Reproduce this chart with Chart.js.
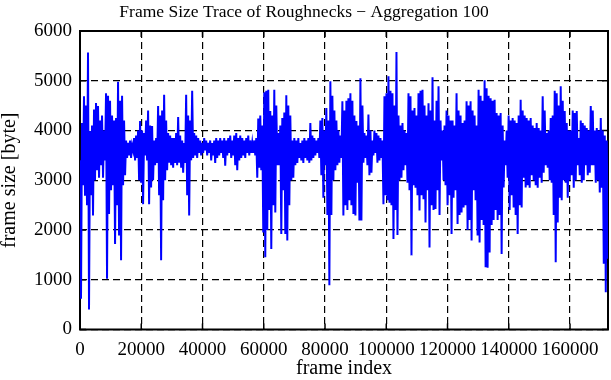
<!DOCTYPE html>
<html>
<head>
<meta charset="utf-8">
<title>Frame Size Trace of Roughnecks</title>
<script src="https://cdn.jsdelivr.net/npm/chart.js@4.4.1/dist/chart.umd.min.js"></script>
<style>
    html, body { margin: 0; padding: 0; background: #fff; }
    #trace { display: block; }
</style>
</head>
<body>
<canvas id="trace" width="611" height="380"></canvas>
<script>
/* ================= DATA ================= */
// aggregated frame sizes, one sample per ~327 frames
const FRAMES_PER_SAMPLE = 327;
const X_MAX = 172400;

const frameSize = [
    // 0 - 22000
    3400, 620, 4150, 2900, 4690, 2690, 4500, 2500, 5570, 400,
    3990, 2700, 4100, 2290, 4420, 3000, 4550, 3200, 4490, 3050,
    4200, 3300, 4300, 3050, 4000, 3400, 4750, 1020, 4700, 2320,
    4600, 2800, 4300, 2900, 4200, 1720, 4250, 2500, 4980, 1890,
    4600, 1390, 4700, 2900, 4200, 3100, 3800, 3450, 3750, 3500,
    3800, 3450, 3700, 3600, 3850, 3400, 3900, 3450, 4000, 3000,
    4190, 2950, 4000, 2520, 3950, 3500, 4200, 3400, 4400,
    // 22000 - 44000
    2520, 4100, 2855, 4090, 3000, 3800, 3300, 3850, 3350, 4490,
    2700, 4300, 1390, 4400, 2600, 4720, 3000, 4200, 3200, 3950,
    3350, 3900, 3300, 3850, 3250, 3850, 3350, 3950, 3300, 4270,
    3350, 3900, 3250, 3800, 3150, 3750, 3350, 4720, 2700, 4300,
    2290, 4200, 3400, 4800, 3450, 3950, 3500, 3900, 3450, 3850,
    3550, 3800, 3500, 3750, 3550, 3850, 3600, 3800, 3500, 3750,
    3550, 3800, 3400, 3750, 3500, 3800,
    // 44000 - 66000
    3350, 3850, 3450, 3800, 3500, 3850, 3550, 3800, 3450, 3850,
    3290, 3800, 3500, 3850, 3550, 3900, 3450, 3800, 3500, 3900,
    3300, 3950, 3200, 3850, 3400, 3900, 3450, 3850, 3500, 3800,
    3450, 3850, 3550, 3900, 3500, 3800, 3550, 3750, 3550, 3800,
    3500, 3850, 3050, 4240, 3250, 4300, 3200, 4100, 1950, 4770,
    1450, 4800, 2000, 4820, 2400, 4390, 1620, 4300, 2500, 4820,
    2350, 4500, 3300, 3950, 3300, 4100, 1920, 4250, 2800,
    // 66000 - 88000
    4360, 1920, 4710, 1790, 4500, 2500, 4300, 3000, 3800, 3050,
    3850, 3300, 3800, 3350, 3850, 3450, 3750, 3400, 3800, 3350,
    3850, 3450, 3800, 3400, 3850, 3350, 4150, 3400, 3900, 3450,
    3850, 3500, 3800, 3550, 3850, 3450, 4200, 3100, 4250, 2650,
    4000, 3300, 4450, 2300, 4200, 890, 4990, 2300, 4700, 3000,
    4400, 3200, 4200, 3300, 4000, 3350, 3900, 3450, 4590, 2290,
    4400, 2500, 4600, 2400, 4650, 2600, 4750, 2500,
    // 88000 - 110000
    4600, 2320, 4300, 2290, 4190, 2950, 4100, 2190, 5050, 2190,
    4500, 3350, 3950, 3450, 3900, 3300, 4320, 3100, 4000, 3150,
    3800, 3500, 4000, 3550, 3950, 3350, 3900, 3400, 3850, 3450,
    3800, 2520, 4690, 2700, 4750, 2600, 5090, 2550, 4800, 2500,
    4750, 1820, 4500, 2400, 5580, 1900, 4300, 3000, 4100, 3050,
    4150, 3200, 4000, 3300, 3950, 2950, 4750, 2800, 4690, 1490,
    4400, 2900, 4450, 2850, 4300, 2700, 4750,
    // 110000 - 132000
    2390, 4800, 2700, 4820, 2620, 4500, 2150, 4300, 2800, 4550,
    1650, 4400, 2500, 5070, 2400, 4200, 2420, 4600, 2800, 4890,
    2300, 4200, 3400, 4000, 3000, 4100, 2900, 4400, 2500, 4300,
    2700, 4200, 1920, 4200, 2650, 4100, 2800, 4750, 2120, 4400,
    2300, 4300, 2350, 4150, 2450, 4200, 2500, 4590, 2000, 4500,
    2200, 4590, 1790, 4400, 2800, 4300, 2600, 4100, 1890, 4820,
    1750, 4700, 2200, 4600, 2100, 5010, 1250, 4850,
    // 132000 - 154000
    1240, 4700, 1550, 4650, 2100, 4600, 2200, 4620, 2400, 4350,
    2200, 4300, 2300, 4350, 1520, 4100, 2855, 3800, 3300, 4000,
    3050, 4300, 2400, 4200, 2700, 4250, 2450, 4200, 2300, 4150,
    1920, 4300, 2500, 4620, 2450, 4400, 3050, 4300, 2855, 4250,
    2900, 4200, 2850, 4250, 3100, 4100, 3000, 4050, 2900, 4150,
    2850, 4050, 3050, 4000, 2950, 4690, 3150, 4400, 3300, 3950,
    3250, 4000, 3000, 4250, 2950, 4300, 2300, 4800, 1350,
    // 154000 - end
    4750, 2150, 4500, 2650, 4890, 2600, 4600, 3000, 4390, 2950,
    4150, 2650, 4000, 3000, 4000, 3100, 4400, 2850, 4350, 3000,
    4390, 3300, 3850, 3100, 4200, 2950, 4150, 3000, 4100, 3300,
    4050, 3100, 4000, 3150, 4490, 3300, 4400, 3300, 4000, 2950,
    4050, 3000, 4000, 2755, 4250, 2850, 4000, 1320, 3900, 750,
    3800, 1420
];

const xTickValues = [0, 20000, 40000, 60000, 80000, 100000, 120000, 140000, 160000];
const yTickValues = [0, 1000, 2000, 3000, 4000, 5000, 6000];

const frameIndex = frameSize.map((_, i) => i * FRAMES_PER_SAMPLE);

const FONT = "'Liberation Serif', 'DejaVu Serif', serif";

/* ================= FRAME + INWARD TICKS ================= */
const framePlugin = {
    id: 'frame',
    beforeDatasetsDraw(chart) {
        const { ctx, chartArea: a, scales } = chart;
        const len = 6;
        ctx.save();
        ctx.strokeStyle = '#000';
        ctx.setLineDash([]);
        ctx.lineWidth = 1.5;
        ctx.beginPath();
        xTickValues.forEach(v => {
            const px = scales.x.getPixelForValue(v);
            ctx.moveTo(px, a.bottom);
            ctx.lineTo(px, a.bottom - len);
            ctx.moveTo(px, a.top);
            ctx.lineTo(px, a.top + len);
        });
        yTickValues.forEach(v => {
            const py = scales.y.getPixelForValue(v);
            ctx.moveTo(a.left, py);
            ctx.lineTo(a.left + len, py);
            ctx.moveTo(a.right, py);
            ctx.lineTo(a.right - len, py);
        });
        ctx.stroke();
        ctx.lineWidth = 2;
        ctx.strokeRect(a.left, a.top, a.right - a.left, a.bottom - a.top);
        ctx.restore();
    }
};

/* ================= CHART ================= */
function axisTicks(values) {
    return scale => {
        scale.ticks = values.map(v => ({ value: v }));
    };
}

function initChart() {
    const ctx = document.getElementById('trace').getContext('2d');
    new Chart(ctx, {
        type: 'line',
        data: {
            labels: frameIndex,
            datasets: [{
                data: frameSize,
                borderColor: '#0000ff',
                borderWidth: 2,
                pointRadius: 0,
                tension: 0,
                fill: false
            }]
        },
        options: {
            responsive: false,
            animation: false,
            devicePixelRatio: 1,
            layout: { padding: { left: 0, right: 3, top: 0, bottom: 0 } },
            plugins: {
                legend: { display: false },
                tooltip: { enabled: false },
                title: {
                    display: true,
                    text: 'Frame Size Trace of Roughnecks \u2212 Aggregation 100',
                    color: '#000',
                    font: { family: FONT, size: 17.5, weight: 'normal' },
                    padding: { top: 2, bottom: 8 }
                }
            },
            scales: {
                x: {
                    type: 'linear',
                    min: 0,
                    max: X_MAX,
                    afterBuildTicks: axisTicks(xTickValues),
                    afterFit: scale => { scale.height = 50.5; },
                    grid: { color: '#000', lineWidth: 1.2, drawTicks: false },
                    border: { display: false, dash: [7, 4] },
                    ticks: {
                        color: '#000',
                        font: { family: FONT, size: 19 },
                        padding: 9,
                        maxRotation: 0,
                        autoSkip: false,
                        callback: v => String(v)
                    },
                    title: {
                        display: true,
                        text: 'frame index',
                        color: '#000',
                        font: { family: FONT, size: 20 },
                        padding: { top: 0, bottom: -1 }
                    }
                },
                y: {
                    min: 0,
                    max: 6000,
                    afterBuildTicks: axisTicks(yTickValues),
                    afterFit: scale => { scale.width = 80; },
                    grid: { color: '#000', lineWidth: 1.2, drawTicks: false },
                    border: { display: false, dash: [7, 4] },
                    ticks: {
                        color: '#000',
                        font: { family: FONT, size: 19 },
                        padding: 8,
                        callback: v => String(v)
                    },
                    title: {
                        display: true,
                        text: 'frame size [byte]',
                        color: '#000',
                        font: { family: FONT, size: 20 },
                        padding: { top: -2, bottom: 0 }
                    }
                }
            }
        },
        plugins: [framePlugin]
    });
}

document.addEventListener('DOMContentLoaded', initChart);
</script>
</body>
</html>
